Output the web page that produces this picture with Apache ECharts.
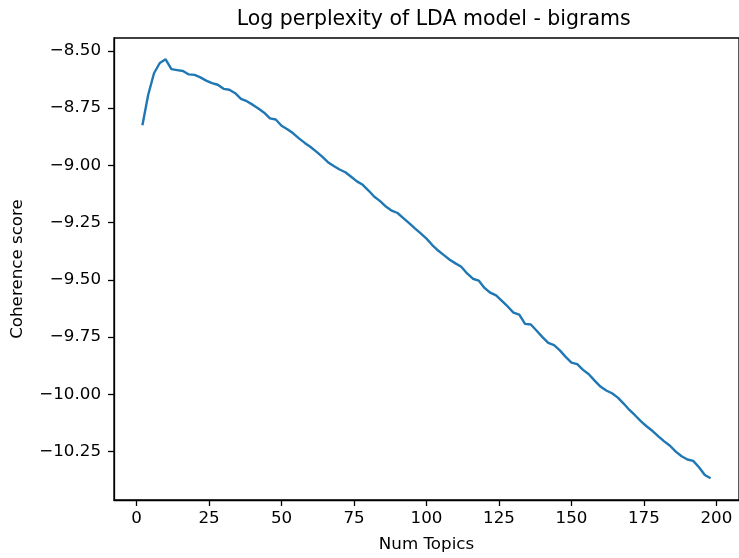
<!DOCTYPE html>
<html>
<head>
<meta charset="utf-8">
<script src="https://cdn.jsdelivr.net/npm/echarts@6/dist/echarts.min.js"></script>
<style>
html,body{margin:0;padding:0;background:#fff;}
#chart{width:739px;height:558px;}
</style>
</head>
<body>
<div id="chart"></div>
<script>
var numTopics = [2,4,6,8,10,12,14,16,18,20,22,24,26,28,30,32,34,36,38,40,42,44,46,48,50,52,54,56,58,60,62,64,66,68,70,72,74,76,78,80,82,84,86,88,90,92,94,96,98,100,102,104,106,108,110,112,114,116,118,120,122,124,126,128,130,132,134,136,138,140,142,144,146,148,150,152,154,156,158,160,162,164,166,168,170,172,174,176,178,180,182,184,186,188,190,192,194,196,198];
var logPerplexity = [-8.825,-8.692,-8.598,-8.553,-8.537,-8.580,-8.584,-8.588,-8.603,-8.605,-8.616,-8.630,-8.641,-8.648,-8.666,-8.670,-8.685,-8.710,-8.720,-8.735,-8.752,-8.770,-8.795,-8.800,-8.827,-8.842,-8.860,-8.882,-8.902,-8.920,-8.940,-8.962,-8.986,-9.003,-9.018,-9.030,-9.050,-9.070,-9.085,-9.110,-9.137,-9.156,-9.180,-9.198,-9.208,-9.230,-9.252,-9.275,-9.297,-9.320,-9.348,-9.372,-9.392,-9.412,-9.428,-9.443,-9.472,-9.495,-9.503,-9.535,-9.556,-9.568,-9.592,-9.616,-9.643,-9.652,-9.692,-9.695,-9.722,-9.750,-9.775,-9.785,-9.808,-9.836,-9.861,-9.868,-9.893,-9.912,-9.940,-9.966,-9.983,-9.995,-10.014,-10.040,-10.068,-10.092,-10.118,-10.140,-10.160,-10.183,-10.205,-10.224,-10.250,-10.270,-10.284,-10.290,-10.318,-10.352,-10.366];
var xTicks = [0,25,50,75,100,125,150,175,200];
var yTicks = [-10.25,-10.00,-9.75,-9.50,-9.25,-9.00,-8.75,-8.50];
var titleText = 'Log perplexity of LDA model - bigrams';
var xName = 'Num Topics';
var yName = 'Coherence score';

var data = numTopics.map(function(x, i){ return [x, logPerplexity[i]]; });
var font = 'DejaVu Sans';
var fs = 16.7;
var chart = echarts.init(document.getElementById('chart'), null, {renderer:'canvas'});
chart.setOption({
  animation:false,
  backgroundColor:'#ffffff',
  title:{
    text:titleText, left:428.7, top:4, textAlign:'center',
    textStyle:{fontFamily:font, fontSize:20.5, fontWeight:'normal', color:'#000'}
  },
  grid:{left:114, top:38, width:629.6, height:466, show:true, borderColor:'#000', borderWidth:1.3, backgroundColor:'rgba(0,0,0,0)'},
  xAxis:{
    type:'value', min:-7.8, max:207.8,
    name:xName, nameLocation:'middle', nameGap:36,
    nameTextStyle:{fontFamily:font, fontSize:fs, color:'#000'},
    axisLine:{show:true, onZero:false, lineStyle:{color:'#000', width:1.3}},
    axisTick:{show:true, inside:false, length:6, customValues:xTicks, lineStyle:{color:'#000', width:1.3}},
    axisLabel:{show:true, customValues:xTicks, margin:10, fontFamily:font, fontSize:fs, color:'#000',
      formatter:function(v){ return String(v).replace('-', '\u2212'); }},
    splitLine:{show:false}
  },
  yAxis:{
    type:'value', min:-10.461, max:-8.444,
    name:yName, nameLocation:'middle', nameGap:88, nameRotate:90,
    nameTextStyle:{fontFamily:font, fontSize:fs, color:'#000'},
    axisLine:{show:true, onZero:false, lineStyle:{color:'#000', width:1.3}},
    axisTick:{show:true, inside:false, length:6, customValues:yTicks, lineStyle:{color:'#000', width:1.3}},
    axisLabel:{show:true, customValues:yTicks, margin:13, fontFamily:font, fontSize:fs, color:'#000',
      formatter:function(v){ return v.toFixed(2).replace('-', '\u2212'); }},
    splitLine:{show:false}
  },
  series:[{
    type:'line', data:data, showSymbol:false, symbol:'none',
    lineStyle:{color:'#1f77b4', width:2.4}, clip:true
  }]
});
</script>
</body>
</html>
